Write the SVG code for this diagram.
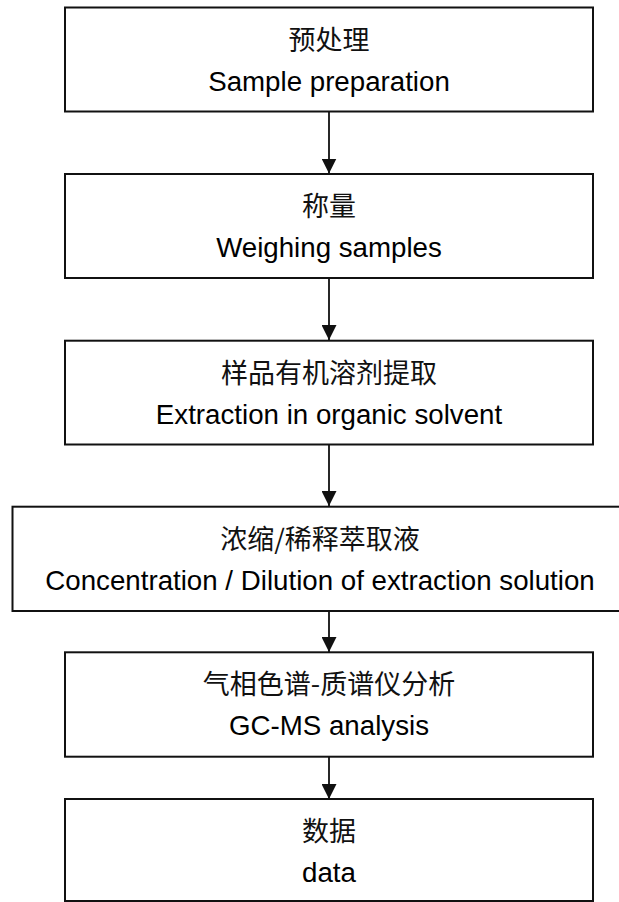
<svg xmlns="http://www.w3.org/2000/svg" width="619" height="902" viewBox="0 0 619 902">
<style>
.box{fill:#ffffff;stroke:#111111;stroke-width:2}
.zh{font-family:"Noto Sans CJK SC","Liberation Sans",sans-serif;font-size:27px;fill:#111111;text-anchor:middle}
.en{font-family:"Liberation Sans",Arial,sans-serif;font-size:27.7px;fill:#000000;text-anchor:middle}
.conn{stroke:#111111;stroke-width:1.8;fill:none;marker-end:url(#arr)}
</style>
<defs>
<marker id="arr" markerUnits="userSpaceOnUse" markerWidth="15" markerHeight="15" refX="15" refY="7.5" orient="auto">
<path d="M0,0 L15,7.5 L0,15 Z" fill="#111111"/>
</marker>
</defs>
<rect width="619" height="902" fill="#ffffff"/>
<g id="connectors">
<line class="conn" x1="329" y1="111.5" x2="329" y2="173.5"/>
<line class="conn" x1="329" y1="278" x2="329" y2="340"/>
<line class="conn" x1="329" y1="444.5" x2="329" y2="506"/>
<line class="conn" x1="329" y1="611" x2="329" y2="652"/>
<line class="conn" x1="329" y1="757" x2="329" y2="799"/>
</g>
<g id="node1">
<rect class="box" x="65" y="7.5" width="528" height="104"/>
<text class="zh" x="329" y="49.5">预处理</text>
<text class="en" x="329" y="90.5">Sample preparation</text>
</g>
<g id="node2">
<rect class="box" x="65" y="174" width="528" height="104"/>
<text class="zh" x="329" y="216">称量</text>
<text class="en" x="329" y="257">Weighing samples</text>
</g>
<g id="node3">
<rect class="box" x="65" y="340.7" width="528" height="103.8"/>
<text class="zh" x="329" y="382.7">样品有机溶剂提取</text>
<text class="en" x="329" y="423.7">Extraction in organic solvent</text>
</g>
<g id="node4">
<rect class="box" x="12.5" y="506.7" width="640" height="104.3"/>
<text class="zh" x="320" y="548.7">浓缩/稀释萃取液</text>
<text class="en" x="320" y="589.7">Concentration / Dilution of extraction solution</text>
</g>
<g id="node5">
<rect class="box" x="65" y="652.3" width="528" height="104.4"/>
<text class="zh" x="329" y="694.3">气相色谱-质谱仪分析</text>
<text class="en" x="329" y="735.3">GC-MS analysis</text>
</g>
<g id="node6">
<rect class="box" x="65" y="799" width="528" height="102"/>
<text class="zh" x="329" y="841">数据</text>
<text class="en" x="329" y="882">data</text>
</g>
</svg>
